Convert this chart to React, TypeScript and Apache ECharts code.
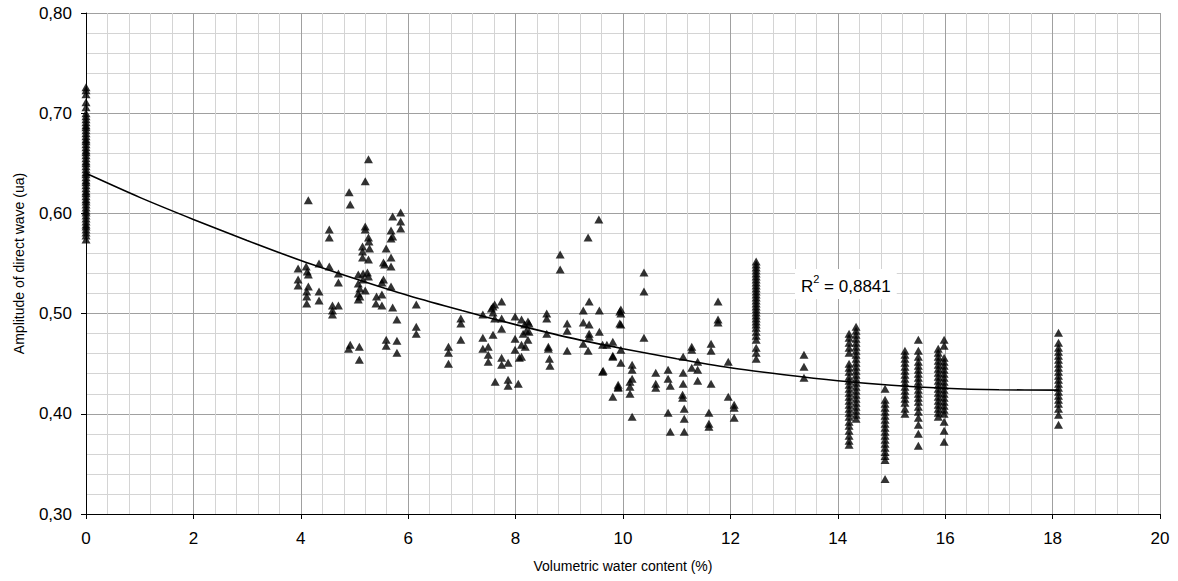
import React, { useEffect, useRef } from "react";
import * as echarts from "echarts";

// ---- Data ----
// Columns of measurements sharing the same water content
const col0X = 0;
const col0Y = [0.574,0.578,0.581,0.584,0.587,0.589,0.592,0.595,0.598,0.601,0.603,0.606,0.609,0.612,0.614,0.617,0.620,0.622,0.625,0.628,0.631,0.633,0.636,0.639,0.641,0.644,0.647,0.650,0.652,0.655,0.658,0.661,0.663,0.666,0.669,0.672,0.674,0.677,0.680,0.683,0.686,0.688,0.691,0.694,0.697,0.700,0.706,0.711,0.719,0.723,0.726];
const col125X = 12.48;
const col125Y = [0.455,0.461,0.466,0.474,0.478,0.482,0.486,0.489,0.492,0.495,0.498,0.501,0.504,0.507,0.510,0.513,0.516,0.519,0.522,0.525,0.528,0.531,0.534,0.537,0.540,0.543,0.546,0.549,0.552];
const col134X = 13.37;
const col134Y = [0.459,0.447,0.436];
const col142X = 14.21;
const col142Y = [0.480,0.476,0.471,0.466,0.461,0.450,0.446,0.442,0.437,0.433,0.429,0.425,0.421,0.417,0.413,0.409,0.405,0.401,0.397,0.392,0.388,0.383,0.378,0.373,0.369];
const col143X = 14.34;
const col143Y = [0.487,0.483,0.479,0.475,0.471,0.467,0.463,0.459,0.455,0.451,0.447,0.443,0.439,0.435,0.431,0.427,0.423,0.419,0.415,0.411,0.407,0.403,0.399,0.395];
const col149X = 14.88;
const col149Y = [0.425,0.414,0.410,0.406,0.402,0.398,0.394,0.390,0.386,0.382,0.378,0.374,0.370,0.366,0.362,0.358,0.354,0.335];
const col152X = 15.25;
const col152Y = [0.463,0.459,0.455,0.451,0.447,0.443,0.439,0.435,0.431,0.427,0.423,0.419,0.415,0.411,0.405,0.400];
const col155X = 15.5;
const col155Y = [0.474,0.463,0.457,0.452,0.448,0.444,0.440,0.436,0.432,0.428,0.424,0.420,0.416,0.412,0.407,0.402,0.396,0.389,0.380,0.368];
const col159X = 15.87;
const col159Y = [0.465,0.461,0.457,0.453,0.449,0.445,0.441,0.437,0.433,0.429,0.425,0.421,0.417,0.413,0.409,0.405,0.401,0.397];
const col160X = 15.98;
const col160Y = [0.474,0.468,0.456,0.452,0.448,0.444,0.440,0.436,0.432,0.428,0.424,0.420,0.416,0.412,0.408,0.404,0.400,0.392,0.383,0.372];
const col181X = 18.11;
const col181Y = [0.481,0.471,0.466,0.462,0.458,0.454,0.450,0.446,0.442,0.438,0.434,0.430,0.426,0.422,0.418,0.414,0.410,0.405,0.399,0.389];

// Scattered individual measurements [water content, amplitude]
const scatteredPoints = [
  [5.26,0.654],[5.20,0.632],[4.90,0.621],[4.92,0.609],[4.14,0.613],[5.71,0.597],[5.86,0.601],[5.86,0.592],[5.86,0.585],
  [5.68,0.583],[5.71,0.577],[5.68,0.575],[4.53,0.584],[4.53,0.576],[5.20,0.587],[5.20,0.584],[5.26,0.576],[5.27,0.572],
  [5.28,0.565],[5.15,0.567],[5.15,0.562],[5.15,0.556],[5.26,0.554],[5.59,0.565],[5.68,0.556],[5.54,0.551],[5.56,0.549],
  [5.68,0.547],[3.95,0.545],[3.95,0.534],[3.95,0.528],[4.10,0.547],[4.12,0.542],[4.14,0.539],[4.34,0.550],[4.53,0.547],
  [4.70,0.540],[4.70,0.531],[4.14,0.527],[4.11,0.522],[4.11,0.517],[4.11,0.510],[4.34,0.522],[4.34,0.513],[4.59,0.508],
  [4.59,0.503],[4.59,0.499],[4.70,0.508],[5.07,0.539],[5.16,0.540],[5.24,0.541],[5.26,0.537],[5.16,0.534],[5.07,0.530],
  [5.10,0.525],[5.20,0.523],[5.07,0.520],[5.07,0.514],[5.10,0.517],[5.54,0.534],[5.51,0.531],[5.68,0.527],[5.41,0.517],
  [5.51,0.519],[5.40,0.510],[5.51,0.508],[5.71,0.506],[5.79,0.494],[6.15,0.509],[6.15,0.487],[6.15,0.480],[5.59,0.474],
  [5.59,0.468],[5.79,0.473],[5.79,0.461],[4.92,0.469],[4.89,0.465],[5.09,0.467],[5.09,0.454],[6.75,0.467],[6.75,0.461],
  [6.75,0.450],[8.83,0.559],[8.83,0.544],[9.35,0.576],[9.55,0.594],[6.98,0.495],[6.98,0.490],[6.98,0.474],[7.39,0.499],
  [7.55,0.505],[7.58,0.507],[7.61,0.509],[7.74,0.512],[7.58,0.501],[7.61,0.495],[7.74,0.495],[7.74,0.485],[7.39,0.476],
  [7.58,0.479],[7.39,0.465],[7.49,0.467],[7.49,0.459],[7.49,0.452],[7.74,0.456],[7.74,0.449],[7.86,0.451],[7.99,0.497],
  [8.11,0.494],[7.99,0.475],[7.99,0.464],[8.07,0.456],[8.11,0.457],[8.11,0.469],[8.17,0.489],[8.23,0.492],[8.25,0.490],
  [8.20,0.483],[8.14,0.480],[8.25,0.482],[8.23,0.474],[8.18,0.467],[7.62,0.432],[7.86,0.434],[7.86,0.428],[8.05,0.430],
  [8.58,0.500],[8.58,0.495],[8.58,0.480],[8.61,0.467],[8.61,0.465],[8.63,0.455],[8.64,0.448],[8.96,0.490],[8.96,0.483],
  [8.96,0.463],[9.37,0.512],[9.26,0.503],[9.56,0.503],[9.26,0.491],[9.37,0.489],[9.37,0.480],[9.37,0.477],[9.56,0.482],
  [9.26,0.470],[9.35,0.463],[9.62,0.469],[9.81,0.472],[9.81,0.457],[9.62,0.442],[9.91,0.427],[9.81,0.417],[9.94,0.502],
  [9.94,0.490],[10.39,0.541],[10.39,0.522],[10.39,0.476],[9.96,0.504],[9.96,0.500],[9.96,0.489],[9.70,0.469],[9.96,0.464],
  [9.81,0.458],[9.96,0.451],[10.17,0.449],[10.17,0.444],[10.17,0.435],[10.13,0.432],[10.13,0.427],[10.13,0.420],[9.91,0.429],
  [9.91,0.426],[10.17,0.397],[9.63,0.443],[10.61,0.441],[10.61,0.430],[10.61,0.426],[10.84,0.444],[10.84,0.435],[10.88,0.428],
  [10.84,0.401],[10.88,0.382],[11.12,0.457],[11.12,0.441],[11.12,0.430],[11.11,0.419],[11.11,0.416],[11.14,0.405],[11.14,0.395],
  [11.14,0.382],[11.28,0.467],[11.28,0.464],[11.28,0.446],[11.39,0.452],[11.39,0.444],[11.39,0.433],[11.64,0.470],[11.64,0.463],
  [11.64,0.430],[11.60,0.401],[11.60,0.390],[11.60,0.387],[11.77,0.512],[11.77,0.494],[11.77,0.491],[11.96,0.452],[11.96,0.417],
  [12.07,0.409],[12.07,0.406],[12.07,0.396]
];

// Polynomial trend line
const trendX = [0, 1, 2, 3, 4, 5, 6, 7, 8, 9, 10, 11, 12, 13, 14, 15, 16, 17, 18.11];
const trendY = [0.640, 0.616, 0.594, 0.573, 0.553, 0.535, 0.518, 0.503, 0.489, 0.476, 0.465, 0.455, 0.446, 0.439, 0.433, 0.4285, 0.4255, 0.4240, 0.4236];

const r2Label = "0,8841";
const xAxisName = "Volumetric water content (%)";
const yAxisName = "Amplitude of direct wave (ua)";

const columns: [number, number[]][] = [
  [col0X, col0Y], [col125X, col125Y], [col134X, col134Y], [col142X, col142Y], [col143X, col143Y],
  [col149X, col149Y], [col152X, col152Y], [col155X, col155Y], [col159X, col159Y], [col160X, col160Y], [col181X, col181Y],
];

export default function App() {
  const ref = useRef<HTMLDivElement>(null);
  useEffect(() => {
    if (!ref.current) return;
    const chart = echarts.init(ref.current, undefined, { renderer: "svg" });
    const scatterData: number[][] = [];
    columns.forEach(([x, ys]) => ys.forEach((y) => scatterData.push([x, y])));
    scatteredPoints.forEach((p) => scatterData.push(p));
    const font = "Liberation Sans, Arial, sans-serif";
    const majorColor = "#a0a0a0";
    const minorColor = "#d4d4d4";
    chart.setOption({
      animation: false,
      backgroundColor: "#ffffff",
      textStyle: { fontFamily: font },
      grid: { left: 86, right: 18, top: 13, bottom: 67, containLabel: false },
      xAxis: {
        type: "value",
        min: 0,
        max: 20,
        interval: 2,
        name: xAxisName,
        nameLocation: "middle",
        nameGap: 45,
        nameTextStyle: { fontSize: 14, color: "#000", fontFamily: font },
        axisLine: { show: true, onZero: false, lineStyle: { color: "#000", width: 1 } },
        axisTick: { show: true, length: 5, lineStyle: { color: "#000" } },
        axisLabel: { fontSize: 17, color: "#000", margin: 16, fontFamily: font },
        splitLine: { show: true, lineStyle: { color: majorColor, width: 1 } },
        minorTick: { show: false, splitNumber: 5 },
        minorSplitLine: { show: true, lineStyle: { color: minorColor, width: 1 } },
      },
      yAxis: {
        type: "value",
        min: 0.3,
        max: 0.8,
        interval: 0.1,
        name: yAxisName,
        nameLocation: "middle",
        nameGap: 60,
        nameRotate: 90,
        nameTextStyle: { fontSize: 14, color: "#000", fontFamily: font },
        axisLine: { show: true, onZero: false, lineStyle: { color: "#000", width: 1 } },
        axisTick: { show: true, length: 5, lineStyle: { color: "#000" } },
        axisLabel: {
          fontSize: 17,
          color: "#000",
          margin: 14,
          fontFamily: font,
          formatter: (v: number) => v.toFixed(2).replace(".", ","),
        },
        splitLine: { show: true, lineStyle: { color: majorColor, width: 1 } },
        minorTick: { show: false, splitNumber: 5 },
        minorSplitLine: { show: true, lineStyle: { color: minorColor, width: 1 } },
      },
      series: [
        {
          type: "scatter",
          data: scatterData,
          symbol: "triangle",
          symbolSize: [9, 8],
          itemStyle: { color: "#000" },
          z: 3,
        },
        {
          type: "line",
          data: trendX.map((x, i) => [x, trendY[i]]),
          smooth: 0.3,
          showSymbol: false,
          symbol: "none",
          lineStyle: { color: "#000", width: 1.6 },
          z: 4,
        },
      ],
      graphic: [
        {
          type: "text",
          left: 795,
          top: 269,
          z: 10,
          style: {
            text: "{n|R}{s|2}{n| = " + r2Label + "}",
            backgroundColor: "#ffffff",
            padding: [4, 6, 4, 6],
            rich: {
              n: { fontSize: 17, fontFamily: font, fill: "#000", lineHeight: 22, verticalAlign: "bottom" },
              s: { fontSize: 11, fontFamily: font, fill: "#000", lineHeight: 22, verticalAlign: "top", padding: [0, 0, 10, 0] },
            },
          },
        },
      ],
    });
    return () => chart.dispose();
  }, []);
  return (
    <div
      ref={ref}
      style={{ position: "fixed", left: 0, top: 0, width: 1178, height: 581, background: "#fff" }}
    />
  );
}
